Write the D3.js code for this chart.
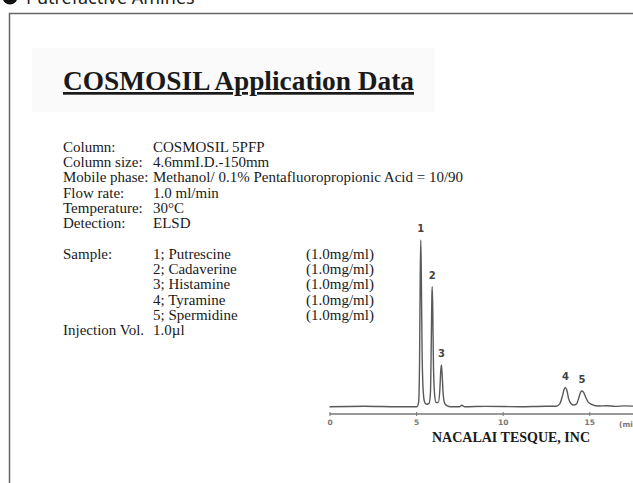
<!DOCTYPE html>
<html>
<head>
<meta charset="utf-8">
<script src="https://cdn.jsdelivr.net/npm/d3@7"></script>
<style>
  html, body { margin: 0; padding: 0; background: #fff; overflow: hidden; }
  svg { display: block; }
</style>
</head>
<body>
<svg id="chart" width="633" height="483"></svg>
<script>
// method info
const methodLabels = ["Column:", "Column size:", "Mobile phase:", "Flow rate:", "Temperature:", "Detection:"];
const methodValues = ["COSMOSIL 5PFP", "4.6mmI.D.-150mm", "Methanol/ 0.1% Pentafluoropropionic Acid = 10/90", "1.0 ml/min", "30°C", "ELSD"];

// sample list
const sampleNames = ["1; Putrescine", "2; Cadaverine", "3; Histamine", "4; Tyramine", "5; Spermidine"];
const sampleConc = ["(1.0mg/ml)", "(1.0mg/ml)", "(1.0mg/ml)", "(1.0mg/ml)", "(1.0mg/ml)"];

// peaks (retention time in min, relative height)
const peakLabels = ["1", "2", "3", "4", "5"];
const peakTimes = [5.27, 5.93, 6.46, 13.62, 14.58];
const peakHeights = [100, 72, 25, 11.4, 9.4];

// chromatogram trace: [time (min), signal]
const trace = [
  [0, 0], [2, 0.3], [4, 0], [5.05, 0], [5.15, 3], [5.2, 28], [5.24, 80], [5.27, 100], [5.3, 80], [5.35, 30],
  [5.42, 8], [5.5, 2.5], [5.62, 1.5], [5.75, 2], [5.83, 9], [5.88, 42], [5.91, 66], [5.93, 72], [5.96, 60],
  [6.0, 26], [6.07, 7], [6.15, 2.5], [6.28, 2.5], [6.37, 10], [6.42, 21], [6.46, 25], [6.5, 20], [6.56, 8],
  [6.65, 2], [6.8, 0.5], [7.0, 0], [7.5, 0], [7.64, 0.9], [7.8, 0], [9, 0.2], [11, 0], [12.5, 0.3], [13.1, 0.3],
  [13.3, 1.8], [13.45, 6.5], [13.55, 10.5], [13.62, 11.4], [13.7, 10], [13.8, 5], [13.95, 1.8], [14.1, 1],
  [14.25, 1.5], [14.4, 5.5], [14.5, 8.8], [14.58, 9.4], [14.68, 8.5], [14.8, 5.5], [14.95, 2.6], [15.2, 1.1],
  [15.5, 0.4], [16, 0.6], [16.5, 0.2], [17, 0.5], [17.6, 0.3]
];

const axisTicks = [0, 5, 10, 15];

const svg = d3.select("#chart");

// header (cut off at the top edge)
svg.append("circle")
    .attr("cx", 10)
    .attr("cy", -3)
    .attr("r", 7.5)
    .attr("fill", "#111");
svg.append("text")
    .attr("x", 26)
    .attr("y", 4)
    .attr("font-family", "Noto Sans, sans-serif")
    .attr("font-size", 18)
    .attr("fill", "#222")
    .text("Putrefactive Amines");

// frame
svg.append("rect")
    .attr("x", 9.5)
    .attr("y", 13.5)
    .attr("width", 700)
    .attr("height", 600)
    .attr("fill", "none")
    .attr("stroke", "#666")
    .attr("stroke-width", 1.5);

// title block
svg.append("rect")
    .attr("x", 32)
    .attr("y", 48)
    .attr("width", 403)
    .attr("height", 64)
    .attr("fill", "#fafafa");

svg.append("text")
    .attr("x", 63)
    .attr("y", 90)
    .attr("font-family", "Liberation Serif, Times New Roman, serif")
    .attr("font-weight", "bold")
    .attr("font-size", 27)
    .attr("text-decoration", "underline")
    .attr("fill", "#1a1a1a")
    .attr("textLength", 351)
    .attr("lengthAdjust", "spacingAndGlyphs")
    .text("COSMOSIL Application Data");

const serif = "Liberation Serif, Times New Roman, serif";
const bodySize = 15;

// method lines
const methodY = d3.scalePoint().domain(d3.range(methodLabels.length)).range([152, 228]);
const info = svg.append("g").attr("font-family", serif).attr("font-size", bodySize).attr("fill", "#1a1a1a");

methodLabels.forEach((l, i) => {
    info.append("text").attr("x", 63).attr("y", methodY(i)).text(l);
    info.append("text").attr("x", 153).attr("y", methodY(i)).text(methodValues[i]);
});

const sampleY = d3.scalePoint().domain(d3.range(sampleNames.length + 1)).range([259, 335]);
info.append("text").attr("x", 63).attr("y", sampleY(0)).text("Sample:");
sampleNames.forEach((s, i) => {
    info.append("text").attr("x", 153).attr("y", sampleY(i)).text(s);
    info.append("text").attr("x", 306).attr("y", sampleY(i)).text(sampleConc[i]);
});
info.append("text").attr("x", 63).attr("y", sampleY(5)).text("Injection Vol.");
info.append("text").attr("x", 153).attr("y", sampleY(5)).text("1.0µl");

// chromatogram
const x = d3.scaleLinear().domain([0, 15]).range([329.5, 589.3]);
const y = d3.scaleLinear().domain([0, 100]).range([406.7, 240]);

const line = d3.line()
    .x(d => x(d[0]))
    .y(d => y(d[1]))
    .curve(d3.curveMonotoneX);

svg.append("path")
    .datum(trace)
    .attr("d", line)
    .attr("fill", "none")
    .attr("stroke", "#595959")
    .attr("stroke-width", 1.4);

const axisY = 414;
const xAxis = svg.append("g")
    .attr("transform", `translate(0,${axisY})`)
    .call(d3.axisBottom(x).tickValues(axisTicks).tickSize(3).tickFormat(d3.format("d")));

xAxis.select(".domain").remove();
xAxis.append("line")
    .attr("x1", x(0))
    .attr("x2", 633)
    .attr("stroke", "#777")
    .attr("stroke-width", 1.5);
xAxis.selectAll(".tick line").attr("stroke", "#777").attr("y1", -2).attr("y2", 2);
xAxis.selectAll(".tick text")
    .attr("y", 6)
    .attr("font-family", "DejaVu Sans, sans-serif")
    .attr("font-weight", "bold")
    .attr("font-size", 7.5)
    .attr("fill", "#777");

svg.append("text")
    .attr("x", 619)
    .attr("y", axisY + 12.5)
    .attr("font-family", "DejaVu Sans, sans-serif")
    .attr("font-weight", "bold")
    .attr("font-size", 7.5)
    .attr("fill", "#777")
    .text("(min)");

// peak numbers
svg.append("g")
    .selectAll("text")
    .data(peakLabels)
    .join("text")
    .attr("x", (d, i) => x(peakTimes[i]))
    .attr("y", (d, i) => y(peakHeights[i]) - 8)
    .attr("text-anchor", "middle")
    .attr("font-family", "DejaVu Sans, sans-serif")
    .attr("font-weight", "bold")
    .attr("font-size", 10)
    .attr("fill", "#444")
    .text(d => d);

svg.append("text")
    .attr("x", 511)
    .attr("y", 442)
    .attr("text-anchor", "middle")
    .attr("font-family", serif)
    .attr("font-weight", "bold")
    .attr("font-size", 14)
    .attr("fill", "#1a1a1a")
    .text("NACALAI TESQUE, INC");
</script>
</body>
</html>
